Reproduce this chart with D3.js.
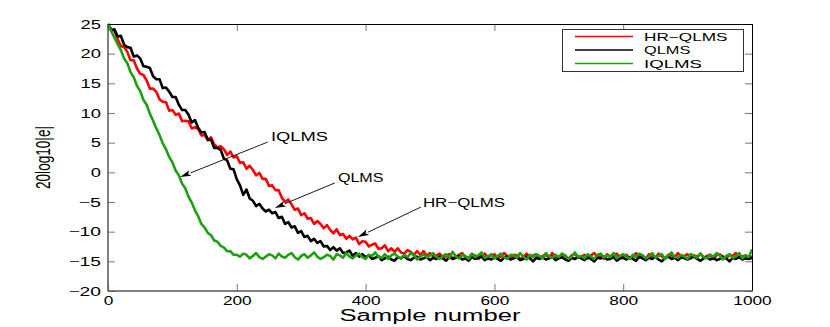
<!DOCTYPE html>
<html>
<head>
<meta charset="utf-8">
<script src="https://cdn.jsdelivr.net/npm/d3@7"></script>
<style>
  body { margin: 0; background: #fff; }
  text { font-family: "Liberation Sans", Arial, sans-serif; fill: #000; }
</style>
</head>
<body>
<svg id="chart"></svg>
<script>
// error curves, one value every 5 samples (0..1000)
var step = 5;
var hrqlms = [
  25.0, 24.0, 23.9, 22.4, 21.3, 21.1, 20.3, 18.9, 18.9, 17.5, 16.6, 16.4, 15.5, 14.1, 14.1, 13.6, 12.3, 11.9, 11.8, 10.4,
  10.5, 9.7, 9.9, 8.6, 8.7, 8.6, 7.4, 7.6, 7.3, 6.2, 6.3, 5.4, 5.9, 4.7, 4.2, 4.4, 3.9, 2.9, 3.5, 2.5,
  2.7, 1.6, 1.7, 0.6, 1.1, 0.4, -0.5, -0.1, -1.1, -1.1, -2.3, -2.2, -3.0, -3.0, -4.3, -5.0, -4.6, -5.4, -6.3, -6.1,
  -7.2, -6.9, -7.8, -7.7, -8.7, -8.2, -8.7, -9.4, -8.9, -9.7, -10.3, -9.6, -10.6, -10.4, -11.2, -10.7, -11.3, -11.0, -12.1, -11.6,
  -11.7, -12.5, -12.2, -12.0, -12.9, -12.8, -12.3, -13.3, -12.8, -13.4, -12.8, -13.5, -13.7, -13.1, -13.4, -13.9, -13.3, -13.9, -13.3, -14.1,
  -13.6, -14.2, -14.0, -13.7, -14.4, -14.1, -13.8, -14.5, -14.2, -13.9, -13.6, -14.3, -14.4, -13.8, -14.0, -14.6, -14.1, -13.7, -14.3, -14.0,
  -13.8, -14.4, -14.2, -13.6, -14.1, -14.5, -13.9, -14.0, -14.6, -14.2, -13.7, -14.3, -14.0, -13.8, -14.5, -14.1, -13.9, -14.4, -13.6, -14.2,
  -14.3, -13.8, -14.1, -14.6, -14.0, -13.7, -14.4, -14.2, -13.9, -14.5, -14.0, -13.6, -14.3, -14.1, -14.6, -13.8, -14.2, -14.0, -13.7, -14.4,
  -14.1, -13.9, -14.5, -14.2, -13.6, -14.3, -14.0, -14.6, -13.8, -14.1, -14.4, -13.7, -14.2, -14.5, -13.9, -14.0, -14.3, -13.6, -14.4, -14.1,
  -13.8, -14.5, -14.0, -14.2, -13.7, -14.4, -14.1, -13.9, -14.6, -14.0, -13.8, -14.3, -14.5, -13.9, -14.1, -13.6, -14.4, -14.2, -14.0, -14.3,
  -14.2
];
var qlms = [
  25.0, 24.0, 24.1, 22.9, 23.0, 21.5, 21.1, 21.0, 19.5, 19.7, 19.2, 17.9, 17.8, 17.6, 16.2, 15.7, 15.7, 14.2, 14.3, 13.6,
  12.7, 12.7, 11.4, 10.5, 10.5, 9.7, 8.4, 8.8, 7.5, 6.7, 6.8, 5.5, 5.5, 4.1, 4.1, 3.8, 2.3, 2.0, 0.6, 0.5,
  -1.2, -2.2, -3.8, -2.9, -4.4, -4.8, -5.7, -5.3, -6.1, -6.6, -6.3, -6.9, -6.7, -7.7, -7.5, -8.7, -8.4, -9.3, -9.1, -10.2,
  -9.9, -10.9, -10.7, -11.6, -11.2, -11.9, -11.6, -12.5, -12.4, -13.1, -12.6, -13.2, -12.8, -13.6, -13.5, -13.2, -14.1, -13.6, -14.2, -13.8,
  -14.3, -14.0, -14.6, -14.4, -14.1, -14.8, -14.5, -14.2, -14.7, -14.9, -14.3, -14.5, -14.1, -14.6, -14.8, -14.4, -14.2, -14.7, -14.5, -14.3,
  -14.8, -14.4, -14.6, -14.2, -14.5, -14.9, -14.3, -14.6, -14.4, -14.1, -14.7, -14.5, -14.9, -14.3, -14.6, -14.4, -14.2, -14.8, -14.5, -14.7,
  -14.3, -14.6, -14.9, -14.4, -14.2, -14.7, -14.5, -14.3, -14.8, -14.6, -14.2, -14.5, -15.0, -14.4, -14.6, -14.3, -14.7, -14.5, -14.2, -14.8,
  -14.5, -14.3, -14.7, -14.9, -14.4, -14.6, -14.2, -14.5, -14.8, -14.3, -14.6, -15.0, -14.4, -14.5, -14.2, -14.7, -14.6, -14.3, -14.9, -14.5,
  -14.4, -14.7, -14.3, -14.6, -14.9, -14.2, -14.5, -14.8, -14.4, -14.6, -14.3, -14.7, -15.0, -14.5, -14.2, -14.6, -14.4, -14.8, -14.3, -14.5,
  -14.7, -14.4, -14.2, -14.6, -14.9, -14.5, -14.3, -14.7, -14.4, -14.8, -14.6, -14.2, -14.5, -15.0, -14.4, -14.6, -14.3, -14.7, -14.5, -14.6,
  -14.4
];
var iqlms = [
  25.0, 23.8, 22.7, 21.6, 20.6, 19.2, 18.4, 16.9, 16.0, 14.6, 13.7, 12.2, 11.4, 9.9, 8.7, 7.4, 6.3, 4.9, 3.9, 2.6,
  1.7, 0.3, -0.5, -1.9, -2.7, -4.1, -5.1, -6.4, -7.4, -8.7, -9.3, -10.2, -10.6, -11.5, -11.7, -12.4, -12.7, -13.3, -13.3, -13.9,
  -13.9, -14.2, -13.7, -13.9, -14.5, -14.1, -13.6, -14.3, -14.6, -14.2, -13.8, -14.0, -14.5, -13.7, -14.2, -14.4, -13.9, -13.6, -14.3, -14.7,
  -14.1, -13.8, -14.4, -14.0, -13.5, -14.2, -14.6, -14.3, -13.9, -14.1, -14.7, -13.8, -14.0, -14.4, -13.6, -14.2, -14.5, -14.0, -13.7, -14.3,
  -14.6, -13.9, -14.1, -13.5, -14.3, -14.4, -13.8, -14.6, -14.0, -13.7, -14.2, -14.5, -13.9, -14.3, -13.6, -14.0, -14.7, -14.2, -13.8, -14.4,
  -14.0, -13.6, -14.3, -14.6, -14.1, -13.8, -14.4, -13.4, -14.2, -14.5, -13.9, -14.1, -14.6, -13.7, -14.3, -14.0, -13.5, -14.4, -14.2, -13.8,
  -14.5, -14.1, -13.7, -14.3, -14.6, -13.9, -14.0, -14.4, -13.6, -14.2, -14.7, -13.9, -14.3, -13.8, -14.1, -14.5, -13.6, -14.2, -14.4, -13.9,
  -14.3, -13.7, -14.0, -14.6, -14.2, -13.5, -14.3, -14.1, -14.5, -13.8, -14.2, -14.6, -13.9, -13.7, -14.4, -14.0, -14.3, -13.6, -14.5, -14.1,
  -13.8, -14.2, -14.6, -13.9, -14.3, -13.7, -14.0, -14.5, -14.2, -13.6, -14.4, -14.1, -13.8, -14.6, -14.0, -13.5, -14.3, -14.4, -13.9, -14.2,
  -14.6, -13.8, -14.1, -14.4, -13.7, -14.3, -14.5, -13.9, -14.2, -13.6, -14.0, -14.7, -14.1, -13.8, -14.4, -14.2, -13.6, -14.5, -14.0, -14.3,
  -13.0
];

var seriesNames = ["HR\u2212QLMS", "QLMS", "IQLMS"];
var seriesColors = ["#ff0000", "#000000", "#1fa012"];
var xTicks = [0, 200, 400, 600, 800, 1000];
var yTicks = [-20, -15, -10, -5, 0, 5, 10, 15, 20, 25];

// arrows: [label, text n, text dB, tail n, tail dB, tip n, tip dB]
var notes = [
  ["IQLMS", 253, 6.1, 248, 5.1, 112, -0.8],
  ["QLMS", 357, -0.8, 352, -1.8, 259, -6.0],
  ["HR\u2212QLMS", 489, -5.0, 486, -5.85, 388, -10.9]
];

var width = 830, height = 327;
var pLeft = 108, pRight = 752, pTop = 24, pBottom = 291;

var svg = d3.select("#chart").attr("width", width).attr("height", height);

var x = d3.scaleLinear().domain([0, 1000]).range([pLeft, pRight]);
var y = d3.scaleLinear().domain([-20, 25]).range([pBottom, pTop]);

// stretch text like the wide matlab font
function stretch(sel, perChar) {
  sel.attr("textLength", function() {
    var s = this.textContent;
    var w = 0;
    for (var c of s) w += (c === "\u2212" ? perChar * 1.2 : perChar);
    return w;
  }).attr("lengthAdjust", "spacingAndGlyphs");
}

var fmt = d3.format("d");
var xAxis = svg.append("g")
    .attr("transform", "translate(0," + pBottom + ")")
    .call(d3.axisBottom(x).tickValues(xTicks).tickFormat(fmt).tickSize(-7).tickPadding(5));
var yAxis = svg.append("g")
    .attr("transform", "translate(" + pLeft + ",0)")
    .call(d3.axisLeft(y).tickValues(yTicks).tickFormat(fmt).tickSize(-7).tickPadding(7));
svg.append("g")
    .attr("transform", "translate(0," + pTop + ")")
    .call(d3.axisTop(x).tickValues(xTicks).tickSize(-7).tickFormat(""));
svg.append("g")
    .attr("transform", "translate(" + pRight + ",0)")
    .call(d3.axisRight(y).tickValues(yTicks).tickSize(-7).tickFormat(""));

svg.selectAll(".domain").remove();
svg.selectAll(".tick line").attr("stroke", "#777");
svg.selectAll(".tick text")
    .style("font-family", "'Liberation Sans', Arial, sans-serif")
    .style("font-size", "12.5px")
    .attr("fill", "#000");
xAxis.selectAll(".tick text").call(stretch, 9.6);
yAxis.selectAll(".tick text").call(stretch, 10.2);

// lines
var line = d3.line()
    .x((d, i) => x(i * step))
    .y(d => y(d));

var plot = svg.append("g");
[hrqlms, qlms, iqlms].forEach(function(s, k) {
  plot.append("path")
      .datum(s)
      .attr("fill", "none")
      .attr("stroke", seriesColors[k])
      .attr("stroke-width", 2.6)
      .attr("stroke-linejoin", "round")
      .attr("d", line);
});

// box
svg.append("line").attr("x1", pLeft).attr("x2", pRight).attr("y1", pTop + 0.5).attr("y2", pTop + 0.5)
    .attr("stroke", "#000");
svg.append("line").attr("x1", pRight + 0.5).attr("x2", pRight + 0.5).attr("y1", pTop).attr("y2", pBottom)
    .attr("stroke", "#000");
svg.append("line").attr("x1", pLeft).attr("x2", pRight + 1).attr("y1", pBottom).attr("y2", pBottom)
    .attr("stroke", "#555").attr("stroke-width", 1.5);
svg.append("line").attr("x1", pLeft).attr("x2", pLeft).attr("y1", pTop).attr("y2", pBottom)
    .attr("stroke", "#555").attr("stroke-width", 1.5);

// annotations
notes.forEach(function(n) {
  var x0 = x(n[3]), y0 = y(n[4]), x1 = x(n[5]), y1 = y(n[6]);
  var a = Math.atan2(y1 - y0, x1 - x0);
  var len = 11, hw = 3;
  var bx = x1 - len * Math.cos(a), by = y1 - len * Math.sin(a);
  svg.append("line")
      .attr("x1", x0).attr("y1", y0).attr("x2", bx).attr("y2", by)
      .attr("stroke", "#000").attr("stroke-width", 0.9);
  svg.append("path")
      .attr("d", "M" + x1 + "," + y1 +
        "L" + (bx - hw * Math.sin(a)) + "," + (by + hw * Math.cos(a)) +
        "L" + (bx + 2.5 * Math.cos(a)) + "," + (by + 2.5 * Math.sin(a)) +
        "L" + (bx + hw * Math.sin(a)) + "," + (by - hw * Math.cos(a)) + "Z")
      .attr("fill", "#000");
  svg.append("text")
      .attr("x", x(n[1])).attr("y", y(n[2]) + 4.5)
      .style("font-size", "12.5px")
      .text(n[0])
      .call(stretch, 11.4);
});

// legend
var legend = svg.append("g");
legend.append("rect")
    .attr("x", 562.5).attr("y", 29.5).attr("width", 181).attr("height", 42)
    .attr("fill", "#fff").attr("stroke", "#333");
seriesNames.forEach(function(name, i) {
  var ly = 36.5 + i * 13.5;
  legend.append("line")
      .attr("x1", 575).attr("x2", 633).attr("y1", ly).attr("y2", ly)
      .attr("stroke", seriesColors[i]).attr("stroke-width", 1.5);
  legend.append("text")
      .attr("x", 644).attr("y", ly + 4)
      .style("font-size", "11px")
      .text(name)
      .call(stretch, 11.6);
});

// axis titles
svg.append("text")
    .attr("x", (pLeft + pRight) / 2).attr("y", 321)
    .attr("text-anchor", "middle")
    .style("font-size", "16px")
    .attr("textLength", 181).attr("lengthAdjust", "spacingAndGlyphs")
    .text("Sample number");

svg.append("text")
    .attr("transform", "translate(50," + (pTop + pBottom) / 2 + ") rotate(-90)")
    .attr("text-anchor", "middle")
    .style("font-family", "'Liberation Sans Narrow', 'Liberation Sans', sans-serif")
    .style("font-size", "20px")
    .attr("textLength", 63).attr("lengthAdjust", "spacingAndGlyphs")
    .text("20log10|e|");
</script>
</body>
</html>
